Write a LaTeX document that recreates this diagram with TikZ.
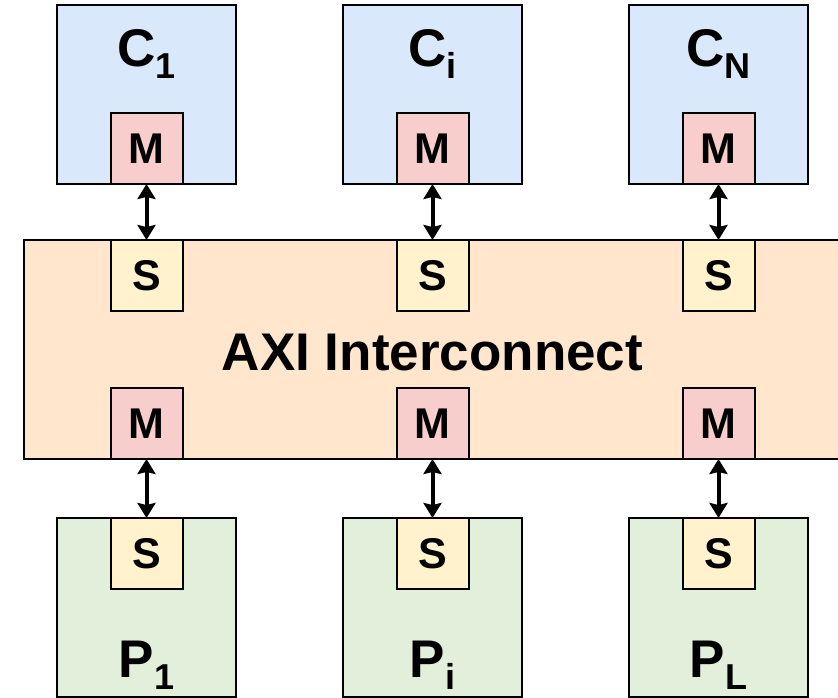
\documentclass[tikz,border=0pt]{standalone}
\usepackage{fontspec}
\setmainfont{Liberation Sans}
\usetikzlibrary{arrows.meta}
\definecolor{cblue}{HTML}{DAE8FC}
\definecolor{mred}{HTML}{F8CECC}
\definecolor{aorange}{HTML}{FFE6CC}
\definecolor{syellow}{HTML}{FFF2CC}
\definecolor{pgreen}{HTML}{E2EFDA}
\newcommand{\sbs}[1]{\raisebox{-12pt}{\fontsize{36}{36}\selectfont #1}}
\tikzset{
  box/.style={draw=black, line width=2pt, inner sep=0pt, outer sep=0pt},
  core/.style={box, fill=cblue, minimum width=179pt, minimum height=179pt},
  periph/.style={box, fill=pgreen, minimum width=179pt, minimum height=179pt},
  port/.style={box, minimum width=72pt, minimum height=71pt, font=\fontsize{43}{43}\selectfont\bfseries},
  mport/.style={port, fill=mred},
  sport/.style={port, fill=syellow},
  bus/.style={box, fill=aorange, minimum width=828pt, minimum height=219pt},
  lbl/.style={anchor=base, inner sep=0pt, font=\fontsize{53}{53}\selectfont\bfseries},
  tip/.tip={Stealth[length=15pt,width=18pt,inset=2pt]},
  link/.style={line width=4pt, tip-tip},
}
\begin{document}
\begin{tikzpicture}[x=1pt,y=-1pt]
\clip (0,0) rectangle (838,698);
\node[bus] (bus) at (438,349.5) {};
\node[lbl] (axi) at (432.5,370) {AXI Interconnect};
\foreach \i/\x/\c/\p in {1/146.5/1/1, 2/432.5/i/i, 3/718.5/N/L}{
  \node[core] (C\i) at (\x,94.5) {};
  \node[lbl] (CL\i) at (\x,67) {C\sbs{\c}};
  \node[mport] (CM\i) at (\x,148.5) {M};
  \node[sport] (BS\i) at (\x,275.5) {S};
  \node[mport] (BM\i) at (\x,423.5) {M};
  \node[periph] (P\i) at (\x,607.5) {};
  \node[sport] (PS\i) at (\x,553.5) {S};
  \node[lbl] (PL\i) at (\x,677) {P\sbs{\p}};
  \draw[link] (CM\i.south) -- (BS\i.north);
  \draw[link] (BM\i.south) -- (PS\i.north);
}
\end{tikzpicture}
\end{document}
